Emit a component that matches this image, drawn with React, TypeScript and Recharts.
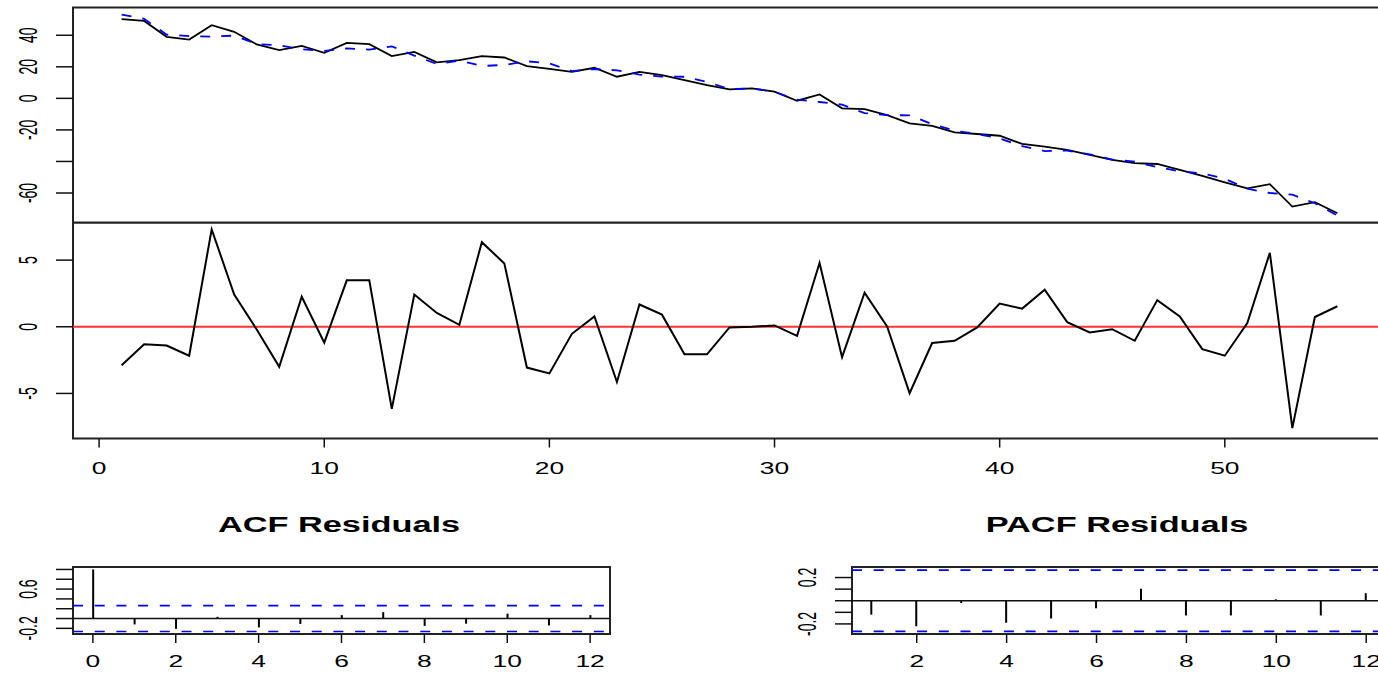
import React from 'react';
import { ComposedChart, Line, Bar, XAxis, YAxis, ReferenceLine, ReferenceArea } from 'recharts';

// time index of the series
const time = [
  1, 2, 3, 4, 5, 6, 7, 8, 9, 10, 11, 12, 13, 14, 15, 16, 17, 18, 19, 20,
  21, 22, 23, 24, 25, 26, 27, 28, 29, 30, 31, 32, 33, 34, 35, 36, 37, 38, 39, 40,
  41, 42, 43, 44, 45, 46, 47, 48, 49, 50, 51, 52, 53, 54, 55,
];

const actual = [
  50.2, 49.1, 39.0, 37.3, 46.4, 42.2, 34.2, 30.6, 33.3, 28.9,
  35.2, 34.4, 26.8, 29.5, 22.8, 24.2, 26.8, 25.9, 20.4, 18.7,
  16.8, 19.4, 13.7, 16.8, 14.7, 11.6, 8.4, 5.7, 6.3, 4.2,
  -1.5, 2.5, -6.3, -6.8, -10.6, -15.8, -17.5, -21.5, -22.6, -23.7,
  -28.9, -30.6, -32.7, -35.9, -39.0, -41.1, -41.6, -45.4, -49.2, -53.2,
  -57.0, -54.4, -68.6, -65.8, -72.8,
];

const fitted = [
  53.1, 50.4, 40.4, 39.5, 39.1, 39.8, 34.4, 33.6, 31.1, 30.1,
  31.7, 30.9, 33.0, 27.1, 21.8, 24.0, 20.5, 21.2, 23.5, 22.2,
  17.3, 18.6, 17.8, 15.1, 13.8, 13.7, 10.5, 5.8, 6.3, 4.1,
  -0.8, -2.3, -4.0, -9.4, -10.6, -10.8, -16.3, -20.5, -22.6, -25.4,
  -30.3, -33.4, -33.1, -35.5, -38.8, -40.1, -43.6, -46.2, -47.5, -51.0,
  -57.3, -60.0, -61.0, -66.5, -74.3,
];

const residuals = [
  -2.88, -1.31, -1.41, -2.17, 7.3, 2.42, -0.2, -3.0, 2.25, -1.19,
  3.48, 3.48, -6.16, 2.42, 1.04, 0.15, 6.34, 4.75, -3.06, -3.5,
  -0.53, 0.78, -4.14, 1.67, 0.91, -2.07, -2.07, -0.05, 0.0, 0.1,
  -0.68, 4.78, -2.28, 2.55, 0.02, -4.98, -1.22, -1.05, -0.05, 1.74,
  1.36, 2.78, 0.35, -0.42, -0.18, -1.05, 2.0, 0.78, -1.68, -2.17,
  0.28, 5.55, -7.6, 0.73, 1.54,
];

const acfLags = [0, 1, 2, 3, 4, 5, 6, 7, 8, 9, 10, 11, 12];
const acfValues = [1, -0.12, -0.21, 0.035, -0.18, -0.11, 0.07, 0.13, -0.15, -0.105, 0.1, -0.14, 0.07];

const pacfLags = [1, 2, 3, 4, 5, 6, 7, 8, 9, 10, 11, 12];
const pacfValues = [-0.12, -0.22, -0.02, -0.19, -0.153, -0.065, 0.103, -0.127, -0.127, 0.012, -0.127, 0.065];

const confLimit = 0.264;

const topTicks = [-60, -40, -20, 0, 20, 40];
const topLabels = [-60, -20, 0, 20, 40];
const residTicks = [-5, 0, 5];
const timeTicks = [0, 10, 20, 30, 40, 50];
const acfYTicks = [-0.2, 0, 0.2, 0.4, 0.6, 0.8, 1.0];
const acfYLabels = [-0.2, 0.6];
const acfXTicks = [0, 2, 4, 6, 8, 10, 12];
const pacfYTicks = [-0.2, -0.1, 0, 0.1, 0.2];
const pacfYLabels = [-0.2, 0.2];
const pacfXTicks = [2, 4, 6, 8, 10, 12];

const series = time.map((t, i) => ({ t, actual: actual[i], fitted: fitted[i], resid: residuals[i] }));
const acfData = acfLags.map((lag, i) => ({ lag, v: acfValues[i] }));
const pacfData = pacfLags.map((lag, i) => ({ lag, v: pacfValues[i] }));

const FONT = '"Liberation Sans", Arial, Helvetica, sans-serif';
const BOX = '#222';

const LeftTick = (props: any) => {
  const { x, y, payload, labels } = props;
  if (!labels.includes(payload.value)) return <g />;
  return (
    <text
      transform={`translate(${x - 19},${y}) scale(1.8,1) rotate(-90)`}
      textAnchor="middle"
      fontSize={14}
      fontFamily={FONT}
      fill="#000"
    >
      {String(payload.value)}
    </text>
  );
};

const BottomTick = (props: any) => {
  const { x, y, payload, dy } = props;
  return (
    <text
      transform={`translate(${x},${y + dy}) scale(1.65,1)`}
      textAnchor="middle"
      fontSize={16}
      fontFamily={FONT}
      fill="#000"
    >
      {String(payload.value)}
    </text>
  );
};

const tickLine = { stroke: '#111', strokeWidth: 1.5 };

export default function App() {
  const topDom: [number, number] = [-78.7, 57.6];
  const resDom: [number, number] = [-8.38, 7.82];
  const tDom: [number, number] = [-1.16, 57.16];
  const acfDom: [number, number] = [-0.315, 1.05];
  const acfX: [number, number] = [-0.48, 12.48];
  const pacfDom: [number, number] = [-0.287, 0.291];
  const pacfX: [number, number] = [0.56, 12.44];

  return (
    <div style={{ position: 'absolute', left: 0, top: 0, width: 1378, height: 673, overflow: 'hidden', background: '#fff' }}>
      {/* series with fitted values */}
      <div style={{ position: 'absolute', left: 0, top: 0 }}>
        <ComposedChart width={1390} height={224} data={series} margin={{ top: 7.5, right: 4, bottom: 1.5, left: 0 }}>
          <XAxis dataKey="t" type="number" domain={tDom} allowDataOverflow hide />
          <YAxis
            type="number"
            domain={topDom}
            allowDataOverflow
            ticks={topTicks}
            interval={0}
            width={73}
            tickSize={17}
            tickMargin={0}
            axisLine={false}
            tickLine={tickLine}
            tick={(p: any) => <LeftTick {...p} labels={topLabels} />}
          />
          <ReferenceArea x1={tDom[0]} x2={tDom[1]} y1={topDom[0]} y2={topDom[1]} fill="none" stroke={BOX} strokeWidth={2} ifOverflow="visible" />
          <Line dataKey="actual" stroke="#000" strokeWidth={1.8} dot={false} isAnimationActive={false} />
          <Line dataKey="fitted" stroke="#0000ff" strokeWidth={1.8} strokeDasharray="10 11" dot={false} isAnimationActive={false} />
        </ComposedChart>
      </div>

      {/* residuals */}
      <div style={{ position: 'absolute', left: 0, top: 222 }}>
        <ComposedChart width={1390} height={260} data={series} margin={{ top: 0.5, right: 4, bottom: 3.5, left: 0 }}>
          <XAxis
            dataKey="t"
            type="number"
            domain={tDom}
            allowDataOverflow
            ticks={timeTicks}
            interval={0}
            height={40}
            tickSize={9}
            tickMargin={0}
            axisLine={false}
            tickLine={tickLine}
            tick={(p: any) => <BottomTick {...p} dy={26} />}
          />
          <YAxis
            type="number"
            domain={resDom}
            allowDataOverflow
            ticks={residTicks}
            interval={0}
            width={73}
            tickSize={17}
            tickMargin={0}
            axisLine={false}
            tickLine={tickLine}
            tick={(p: any) => <LeftTick {...p} labels={residTicks} />}
          />
          <ReferenceArea x1={tDom[0]} x2={tDom[1]} y1={resDom[0]} y2={resDom[1]} fill="none" stroke={BOX} strokeWidth={2} ifOverflow="visible" />
          <ReferenceLine y={0} stroke="#ff3333" strokeWidth={2.2} />
          <Line dataKey="resid" stroke="#000" strokeWidth={2} dot={false} isAnimationActive={false} />
        </ComposedChart>
      </div>

      {/* titles */}
      <svg width={1378} height={673} style={{ position: 'absolute', left: 0, top: 0, pointerEvents: 'none' }}>
        <text transform="translate(339,532) scale(1.575,1)" textAnchor="middle" fontSize={21.8} fontWeight="bold" fontFamily={FONT} fill="#000">
          ACF Residuals
        </text>
        <text transform="translate(1117,532) scale(1.575,1)" textAnchor="middle" fontSize={21.8} fontWeight="bold" fontFamily={FONT} fill="#000">
          PACF Residuals
        </text>
      </svg>

      {/* ACF */}
      <div style={{ position: 'absolute', left: 0, top: 560 }}>
        <ComposedChart width={612} height={113} data={acfData} margin={{ top: 7, right: 2, bottom: 0, left: 0 }}>
          <XAxis
            dataKey="lag"
            type="number"
            domain={acfX}
            allowDataOverflow
            ticks={acfXTicks}
            interval={0}
            height={39}
            tickSize={9}
            tickMargin={0}
            axisLine={false}
            tickLine={tickLine}
            tick={(p: any) => <BottomTick {...p} dy={24} />}
          />
          <YAxis
            type="number"
            domain={acfDom}
            allowDataOverflow
            ticks={acfYTicks}
            interval={0}
            width={73}
            tickSize={17}
            tickMargin={0}
            axisLine={false}
            tickLine={tickLine}
            tick={(p: any) => <LeftTick {...p} labels={acfYLabels} />}
          />
          <ReferenceArea x1={acfX[0]} x2={acfX[1]} y1={acfDom[0]} y2={acfDom[1]} fill="none" stroke={BOX} strokeWidth={2} ifOverflow="visible" />
          <ReferenceLine y={confLimit} stroke="#0000ff" strokeWidth={1.6} strokeDasharray="10 11.7" />
          <ReferenceLine y={-confLimit} stroke="#0000ff" strokeWidth={1.6} strokeDasharray="10 11.7" />
          <ReferenceLine y={0} stroke="#111" strokeWidth={1.5} />
          <Bar dataKey="v" barSize={2} fill="#000" isAnimationActive={false} />
        </ComposedChart>
      </div>

      {/* PACF */}
      <div style={{ position: 'absolute', left: 779, top: 560 }}>
        <ComposedChart width={611} height={113} data={pacfData} margin={{ top: 7, right: 4, bottom: 0, left: 0 }}>
          <XAxis
            dataKey="lag"
            type="number"
            domain={pacfX}
            allowDataOverflow
            ticks={pacfXTicks}
            interval={0}
            height={39}
            tickSize={9}
            tickMargin={0}
            axisLine={false}
            tickLine={tickLine}
            tick={(p: any) => <BottomTick {...p} dy={24} />}
          />
          <YAxis
            type="number"
            domain={pacfDom}
            allowDataOverflow
            ticks={pacfYTicks}
            interval={0}
            width={73}
            tickSize={17}
            tickMargin={0}
            axisLine={false}
            tickLine={tickLine}
            tick={(p: any) => <LeftTick {...p} labels={pacfYLabels} />}
          />
          <ReferenceArea x1={pacfX[0]} x2={pacfX[1]} y1={pacfDom[0]} y2={pacfDom[1]} fill="none" stroke={BOX} strokeWidth={2} ifOverflow="visible" />
          <ReferenceLine y={confLimit} stroke="#0000ff" strokeWidth={1.6} strokeDasharray="10 11.7" />
          <ReferenceLine y={-confLimit} stroke="#0000ff" strokeWidth={1.6} strokeDasharray="10 11.7" />
          <ReferenceLine y={0} stroke="#111" strokeWidth={1.5} />
          <Bar dataKey="v" barSize={2} fill="#000" isAnimationActive={false} />
        </ComposedChart>
      </div>
    </div>
  );
}
